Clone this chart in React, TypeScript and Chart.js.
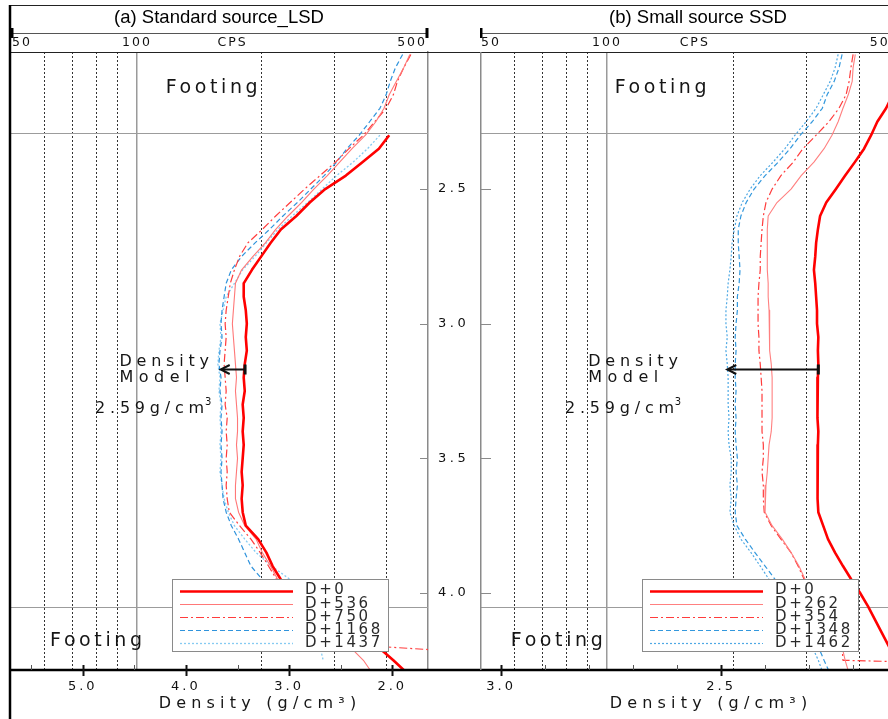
import React, { useEffect, useRef } from 'react';
import { Chart, registerables } from 'chart.js';

Chart.register(...registerables);

// ---------------- data ----------------
const DEPTH = [2.00, 2.05, 2.10, 2.15, 2.20, 2.25, 2.30, 2.35, 2.40, 2.45, 2.50, 2.55, 2.60, 2.65, 2.70, 2.75, 2.80, 2.85, 2.90, 2.95, 3.00, 3.05, 3.10, 3.15, 3.20, 3.25, 3.30, 3.35, 3.40, 3.45, 3.50, 3.55, 3.60, 3.65, 3.70, 3.75, 3.80, 3.85, 3.90, 3.95, 4.00, 4.05, 4.10, 4.15, 4.20, 4.25, 4.30];
const DEPTH_RANGE = [1.991, 4.286];
const DEPTH_TICKS = [2.5, 3.0, 3.5, 4.0];
const FOOTING_DEPTHS = [2.292, 4.052];

// (a) Standard source_LSD
const LSD_LABELS = ['D+0', 'D+536', 'D+750', 'D+1168', 'D+1437'];
const LSD_D0 = [null, null, null, null, null, null, 2.03, 2.13, 2.29, 2.45, 2.65, 2.80, 2.93, 3.08, 3.18, 3.27, 3.36, 3.44, 3.44, 3.42, 3.41, 3.42, 3.41, 3.43, 3.44, 3.43, 3.45, 3.44, 3.45, 3.44, 3.45, 3.46, 3.45, 3.46, 3.45, 3.42, 3.30, 3.22, 3.16, 3.08, 2.89, 2.65, 2.46, 2.29, 2.14, 1.99, 1.85];
const LSD_D536 = [1.83, 1.89, 1.96, 2.03, 2.08, 2.16, 2.26, 2.39, 2.51, 2.63, 2.76, 2.88, 3.01, 3.13, 3.23, 3.35, 3.46, 3.52, 3.53, 3.54, 3.55, 3.54, 3.53, 3.52, 3.51, 3.52, 3.51, 3.50, 3.50, 3.51, 3.50, 3.51, 3.52, 3.52, 3.49, 3.43, 3.32, 3.26, 3.18, 3.11, 2.99, 2.85, 2.68, 2.54, 2.41, 2.28, 2.19];
const LSD_D750 = [1.82, 1.89, 1.95, 1.99, 2.06, 2.17, 2.28, 2.42, 2.55, 2.70, 2.85, 2.99, 3.13, 3.26, 3.40, 3.48, 3.53, 3.57, 3.59, 3.61, 3.62, 3.61, 3.62, 3.63, 3.62, 3.61, 3.62, 3.60, 3.61, 3.60, 3.61, 3.60, 3.61, 3.60, 3.58, 3.48, 3.37, 3.28, 3.20, 3.12, 2.99, 2.80, 2.56, 2.31, 2.07, 0, 0];
const LSD_D1168 = [1.90, 1.97, 2.02, 2.06, 2.12, 2.22, 2.32, 2.44, 2.54, 2.66, 2.79, 2.92, 3.06, 3.19, 3.33, 3.46, 3.56, 3.61, 3.63, 3.65, 3.66, 3.65, 3.67, 3.68, 3.66, 3.67, 3.65, 3.66, 3.65, 3.66, 3.65, 3.66, 3.65, 3.64, 3.61, 3.56, 3.49, 3.43, 3.37, 3.26, 3.14, 3.01, 2.89, 2.78, 2.69, null, null];
const LSD_D1437 = [null, null, null, null, null, null, 2.12, 2.24, 2.38, 2.54, 2.68, 2.82, 2.97, 3.11, 3.22, 3.33, 3.45, 3.53, 3.61, 3.64, 3.67, 3.66, 3.68, 3.69, 3.67, 3.68, 3.66, 3.67, 3.66, 3.67, 3.66, 3.67, 3.65, 3.63, 3.59, 3.53, 3.43, 3.32, 3.17, 2.99, 2.90, 2.84, 2.78, 2.74, 2.70, 2.67, null];
const LSD_DENSITY_RANGE = [1.654, 5.705];
const LSD_DENSITY_TICKS = [2.0, 2.5, 3.0, 3.5, 4.0, 4.5, 5.0, 5.5];
const LSD_DENSITY_LABELED = [2.0, 3.0, 4.0, 5.0];
const LSD_CPS_RANGE = [49.45, 502.8];

// (b) Small source SSD
const SSD_LABELS = ['D+0', 'D+262', 'D+354', 'D+1348', 'D+1462'];
const SSD_D0 = [2.055, 2.070, 2.090, 2.110, 2.125, 2.145, 2.159, 2.175, 2.196, 2.218, 2.239, 2.261, 2.275, 2.280, 2.284, 2.286, 2.289, 2.286, 2.284, 2.282, 2.282, 2.279, 2.280, 2.279, 2.280, 2.282, 2.280, 2.281, 2.279, 2.280, 2.282, 2.281, 2.280, 2.280, 2.279, 2.268, 2.257, 2.241, 2.223, 2.204, 2.184, 2.166, 2.150, 2.134, 2.118, 2.102, 2.086];
const SSD_D262 = [2.195, 2.200, 2.202, 2.211, 2.223, 2.234, 2.248, 2.266, 2.289, 2.318, 2.341, 2.373, 2.393, 2.395, 2.395, 2.395, 2.395, 2.393, 2.393, 2.391, 2.391, 2.389, 2.389, 2.386, 2.384, 2.384, 2.384, 2.384, 2.386, 2.391, 2.393, 2.395, 2.398, 2.400, 2.400, 2.384, 2.361, 2.341, 2.323, 2.309, 2.286, 2.266, 2.248, 2.234, 2.225, 2.218, 2.209];
const SSD_D354 = [2.200, 2.205, 2.209, 2.216, 2.232, 2.255, 2.284, 2.314, 2.336, 2.364, 2.384, 2.398, 2.404, 2.407, 2.409, 2.411, 2.411, 2.414, 2.416, 2.416, 2.416, 2.414, 2.414, 2.411, 2.409, 2.407, 2.407, 2.407, 2.407, 2.404, 2.404, 2.407, 2.404, 2.404, 2.402, 2.386, 2.364, 2.341, 2.325, 2.311, 2.284, 2.261, 2.243, 2.232, 2.225, 2.223, 1.0];
const SSD_D1348 = [2.225, 2.232, 2.243, 2.259, 2.270, 2.293, 2.320, 2.343, 2.370, 2.400, 2.425, 2.443, 2.455, 2.461, 2.461, 2.459, 2.457, 2.459, 2.463, 2.463, 2.466, 2.468, 2.466, 2.468, 2.468, 2.466, 2.468, 2.466, 2.468, 2.466, 2.463, 2.466, 2.463, 2.466, 2.468, 2.464, 2.445, 2.423, 2.400, 2.377, 2.355, 2.332, 2.311, 2.293, 2.279, 2.266, 2.252];
const SSD_D1462 = [2.234, 2.241, 2.252, 2.268, 2.284, 2.307, 2.332, 2.355, 2.382, 2.411, 2.434, 2.452, 2.464, 2.470, 2.475, 2.477, 2.480, 2.484, 2.486, 2.489, 2.489, 2.486, 2.489, 2.486, 2.484, 2.484, 2.484, 2.482, 2.484, 2.482, 2.477, 2.477, 2.480, 2.477, 2.480, 2.470, 2.455, 2.432, 2.411, 2.391, 2.368, 2.345, 2.325, 2.307, 2.293, 2.279, 2.268];
const SSD_DENSITY_RANGE = [2.057, 3.048];
const SSD_DENSITY_TICKS = [2.1, 2.2, 2.3, 2.4, 2.5, 2.6, 2.7, 2.8, 2.9, 3.0];
const SSD_DENSITY_LABELED = [2.5, 3.0];
const SSD_CPS_RANGE = [49.73, 547];

const CPS_TICKS = [50, 60, 70, 80, 90, 100, 200, 300, 400, 500];
const CPS_LABELED = [50, 100, 500];
const DENSITY_MODEL = '2.59';

// annotation anchors in data units [density, depth]
const LSD_FOOT_TOP = [4.196, 2.144];
const LSD_FOOT_BOT = [5.317, 4.197];
const LSD_MODEL = [4.645, 3.157, 3.215];
const LSD_VALUE = [4.881, 3.333];
const LSD_ARROW = [3.427, 3.663, 3.168];
const SSD_FOOT_TOP = [2.742, 2.144];
const SSD_FOOT_BOT = [2.978, 4.197];
const SSD_MODEL = [2.802, 3.157, 3.215];
const SSD_VALUE = [2.855, 3.333];
const SSD_ARROW = [2.279, 2.486, 3.168];

// ---------------- styles ----------------
const FONT = '"DejaVu Sans", Verdana, sans-serif';
const TITLE_FONT = '"Liberation Sans", Arial, sans-serif';
const INK = '#151515';

type Style = { color: string; width: number; dash: number[] };
const STYLES_A: Style[] = [
  { color: '#ff0000', width: 2.6, dash: [] },
  { color: '#ff7878', width: 1.1, dash: [] },
  { color: '#ff3c3c', width: 1.2, dash: [8, 3, 2, 3] },
  { color: '#2f93dc', width: 1.2, dash: [5, 3] },
  { color: '#86cbf2', width: 1.3, dash: [2, 2] },
];
const STYLES_B: Style[] = [
  { color: '#ff0000', width: 2.6, dash: [] },
  { color: '#ff8080', width: 1.1, dash: [] },
  { color: '#ff3c3c', width: 1.2, dash: [8, 3, 2, 3] },
  { color: '#3398dd', width: 1.2, dash: [5, 3] },
  { color: '#4fa9e4', width: 1.2, dash: [2, 2] },
];

interface Panel {
  key: string;
  title: string;
  labels: string[];
  series: (number | null)[][];
  styles: Style[];
  densityRange: number[];
  densityTicks: number[];
  densityLabeled: number[];
  cpsRange: number[];
  cpsNameAt: number;
  first: boolean;
  titleDx: number;
  footTop: number[];
  footBot: number[];
  model: number[];
  value: number[];
  arrow: number[];
}

const PANEL_A: Panel = {
  key: 'a', title: '(a) Standard source_LSD', labels: LSD_LABELS,
  series: [LSD_D0, LSD_D536, LSD_D750, LSD_D1168, LSD_D1437], styles: STYLES_A,
  densityRange: LSD_DENSITY_RANGE, densityTicks: LSD_DENSITY_TICKS, densityLabeled: LSD_DENSITY_LABELED,
  cpsRange: LSD_CPS_RANGE, cpsNameAt: 170, first: true, titleDx: 41,
  footTop: LSD_FOOT_TOP, footBot: LSD_FOOT_BOT, model: LSD_MODEL, value: LSD_VALUE, arrow: LSD_ARROW,
};
const PANEL_B: Panel = {
  key: 'b', title: '(b) Small source SSD', labels: SSD_LABELS,
  series: [SSD_D0, SSD_D262, SSD_D354, SSD_D1348, SSD_D1462], styles: STYLES_B,
  densityRange: SSD_DENSITY_RANGE, densityTicks: SSD_DENSITY_TICKS, densityLabeled: SSD_DENSITY_LABELED,
  cpsRange: SSD_CPS_RANGE, cpsNameAt: 162, first: false, titleDx: 13,
  footTop: SSD_FOOT_TOP, footBot: SSD_FOOT_BOT, model: SSD_MODEL, value: SSD_VALUE, arrow: SSD_ARROW,
};

const near = (list: number[], v: number) => list.some((u) => Math.abs(u - v) < 1e-6);

function styleScale(scale: any, labelSpacing: number, titleSpacing: number, titleDx: number) {
  if (scale.$styled) return;
  scale.$styled = true;
  const origLabels = scale.drawLabels;
  scale.drawLabels = function (area: any) {
    const c = this.ctx;
    c.save();
    c.letterSpacing = labelSpacing + 'px';
    origLabels.call(this, area);
    c.restore();
  };
  const origTitle = scale.drawTitle;
  scale.drawTitle = function () {
    const c = this.ctx;
    c.save();
    c.letterSpacing = titleSpacing + 'px';
    c.translate(titleDx, 0);
    origTitle.call(this);
    c.restore();
  };
}

function hline(ctx: CanvasRenderingContext2D, x1: number, x2: number, y: number) {
  ctx.beginPath(); ctx.moveTo(x1, y); ctx.lineTo(x2, y); ctx.stroke();
}
function vline(ctx: CanvasRenderingContext2D, x: number, y1: number, y2: number) {
  ctx.beginPath(); ctx.moveTo(x, y1); ctx.lineTo(x, y2); ctx.stroke();
}

function decorPlugin(p: Panel) {
  return {
    id: 'decor_' + p.key,
    beforeDraw(chart: any) {
      const { ctx, width, height } = chart;
      ctx.save();
      ctx.fillStyle = '#ffffff';
      ctx.fillRect(0, 0, width, height);
      ctx.restore();
    },
    beforeDatasetsDraw(chart: any) {
      const { ctx, chartArea: ca, scales } = chart;
      ctx.save();
      ctx.strokeStyle = '#9c9c9c';
      ctx.lineWidth = 1;
      for (const d of FOOTING_DEPTHS) {
        const y = Math.round(scales.y.getPixelForValue(d)) + 0.5;
        hline(ctx, ca.left, ca.right, y);
      }
      ctx.restore();
    },
    afterDatasetsDraw(chart: any) {
      const { ctx, chartArea: ca, scales } = chart;
      const X = (v: number) => scales.x.getPixelForValue(v);
      const Y = (v: number) => scales.y.getPixelForValue(v);
      ctx.save();
      ctx.fillStyle = INK;
      ctx.textAlign = 'left';
      ctx.textBaseline = 'alphabetic';
      ctx.font = `19px ${FONT}`;
      ctx.letterSpacing = '3.6px';
      ctx.fillText('Footing', X(p.footTop[0]), Y(p.footTop[1]));
      ctx.fillText('Footing', X(p.footBot[0]), Y(p.footBot[1]));
      ctx.font = `16px ${FONT}`;
      ctx.letterSpacing = '4.8px';
      ctx.fillText('Density', X(p.model[0]), Y(p.model[1]));
      ctx.letterSpacing = '5.5px';
      ctx.fillText('Model', X(p.model[0]), Y(p.model[2]));
      ctx.letterSpacing = '4.8px';
      const vt = DENSITY_MODEL + 'g/cm';
      const vx = X(p.value[0]);
      const vy = Y(p.value[1]);
      ctx.fillText(vt, vx, vy);
      const w = ctx.measureText(vt).width;
      ctx.letterSpacing = '0px';
      ctx.font = `10px ${FONT}`;
      ctx.fillText('3', vx + w - 4, vy - 8);

      // arrow
      const ax1 = X(p.arrow[0]);
      const ax2 = X(p.arrow[1]);
      const ay = Math.round(Y(p.arrow[2])) + 0.5;
      const dir = ax2 < ax1 ? 1 : -1;
      ctx.strokeStyle = '#111';
      ctx.fillStyle = '#111';
      ctx.lineWidth = 2;
      hline(ctx, ax1, ax2 + dir, ay);
      ctx.beginPath();
      ctx.moveTo(ax2 + dir * 9, ay - 4.5);
      ctx.lineTo(ax2, ay);
      ctx.lineTo(ax2 + dir * 9, ay + 4.5);
      ctx.stroke();
      ctx.fillRect(ax1 - 1.5, ay - 5, 3, 10);

      // legend
      const lx = ca.left + 162;
      const ly = ca.bottom - 91;
      const lw = 216;
      const lh = 72;
      ctx.fillStyle = '#fff';
      ctx.fillRect(lx, ly, lw, lh);
      ctx.strokeStyle = '#8a8a8a';
      ctx.lineWidth = 1;
      ctx.strokeRect(lx + 0.5, ly + 0.5, lw, lh);
      chart.data.datasets.forEach((ds: any, k: number) => {
        const ry = ly + 10.5 + k * 13.2;
        ctx.save();
        ctx.strokeStyle = ds.borderColor;
        ctx.lineWidth = ds.borderWidth;
        ctx.setLineDash(ds.borderDash || []);
        hline(ctx, lx + 8, lx + 121, Math.round(ry) + 1.5);
        ctx.restore();
        ctx.fillStyle = '#2a2a2a';
        ctx.font = `15px ${FONT}`;
        ctx.letterSpacing = '2.6px';
        ctx.textBaseline = 'middle';
        ctx.fillText(ds.label, lx + 133, ry + 1);
      });
      ctx.restore();
    },
    afterDraw(chart: any) {
      const { ctx, chartArea: ca, scales, width, height } = chart;
      const xs = scales.x;
      const ys = scales.y;
      const cps = scales.cps;
      const left = p.first ? ca.left : 0;
      ctx.save();
      ctx.strokeStyle = '#222';
      ctx.lineWidth = 1.2;
      hline(ctx, left, width, 5.5);
      ctx.lineWidth = 1;
      hline(ctx, left, width, ca.top + 0.5);
      const c0 = cps.getPixelForValue(CPS_LABELED[0]);
      const cEnd = cps.getPixelForValue(CPS_LABELED[CPS_LABELED.length - 1]);
      ctx.strokeStyle = '#555';
      hline(ctx, p.first ? ca.left : c0, p.first ? ca.right : width, ca.top - 18.5);
      ctx.fillStyle = '#000';
      ctx.fillRect(c0 - 1.5, ca.top - 24, 3, 10);
      if (cEnd < width) ctx.fillRect(cEnd - 1.5, ca.top - 24, 3, 10);
      ctx.strokeStyle = '#000';
      ctx.lineWidth = 2.5;
      hline(ctx, left, width, ca.bottom);
      if (p.first) {
        ctx.lineWidth = 2.5;
        vline(ctx, ca.left, 5, height);
      } else {
        ctx.strokeStyle = '#8a8a8a';
        ctx.lineWidth = 1.5;
        vline(ctx, 0.75, ca.top, ca.bottom);
      }
      for (const t of xs.ticks) {
        const v = t.value;
        const px = Math.round(xs.getPixelForValue(v)) + 0.5;
        if (px < ca.left || px > ca.right) continue;
        const major = near(p.densityLabeled, v);
        ctx.strokeStyle = major ? '#111' : '#555';
        ctx.lineWidth = major ? 2 : 1;
        vline(ctx, px, ca.bottom - 5, ca.bottom + (major ? 6 : 0));
      }
      ctx.strokeStyle = '#8a8a8a';
      ctx.lineWidth = 1;
      for (const d of DEPTH_TICKS) {
        const py = Math.round(ys.getPixelForValue(d)) + 0.5;
        if (p.first) hline(ctx, ca.right - 8, ca.right, py);
        else hline(ctx, ca.left, ca.left + 11, py);
      }
      ctx.restore();
    },
  };
}

function makeChart(canvas: HTMLCanvasElement, p: Panel) {
  const datasets = p.series.map((s, k) => ({
    label: p.labels[k],
    data: DEPTH.map((d, i) => (s[i] == null ? null : { x: s[i] as number, y: d })).filter((pt) => pt !== null),
    borderColor: p.styles[k].color,
    backgroundColor: p.styles[k].color,
    borderWidth: p.styles[k].width,
    borderDash: p.styles[k].dash,
    borderJoinStyle: 'round',
    pointRadius: 0,
    fill: false,
    tension: 0,
    clip: 0,
  }));
  const cpsTicks = [...CPS_TICKS, p.cpsNameAt].sort((a, b) => a - b);
  const cpsColor = (v: number) => {
    if (v === 100) return '#9a9a9a';
    if (v === 50 || v === 500 || !CPS_TICKS.includes(v)) return 'rgba(0,0,0,0)';
    return '#333';
  };
  return new Chart(canvas, {
    type: 'line',
    data: { datasets } as any,
    options: {
      responsive: false,
      animation: false,
      events: [],
      layout: { padding: { left: p.first ? 10 : 0, right: 0, top: 0, bottom: 0 } },
      plugins: { legend: { display: false }, tooltip: { enabled: false }, title: { display: false } },
      scales: {
        x: {
          type: 'linear',
          position: 'bottom',
          reverse: true,
          min: p.densityRange[0],
          max: p.densityRange[1],
          afterBuildTicks: (s: any) => { s.ticks = p.densityTicks.map((v) => ({ value: v })); },
          ticks: {
            autoSkip: false, maxRotation: 0, minRotation: 0, padding: 9, color: '#111',
            font: { family: FONT, size: 13 },
            callback: (v: any) => (near(p.densityLabeled, Number(v)) ? Number(v).toFixed(1) : ''),
          },
          grid: { display: false, drawTicks: false },
          border: { display: false },
          title: {
            display: true, text: 'Density (g/cm³)', color: INK,
            font: { family: FONT, size: 16 }, padding: { top: 0, bottom: 6 },
          },
          afterFit: (s: any) => { s.height = 49; s.paddingLeft = 0; s.paddingRight = 0; },
          afterUpdate: (s: any) => styleScale(s, 3, 5.2, p.titleDx),
        },
        cps: {
          type: 'logarithmic',
          axis: 'x',
          position: 'top',
          min: p.cpsRange[0],
          max: p.cpsRange[1],
          afterBuildTicks: (s: any) => { s.ticks = cpsTicks.map((v) => ({ value: v })); },
          ticks: {
            autoSkip: false, maxRotation: 0, minRotation: 0, padding: 2, color: '#111', align: 'inner',
            font: { family: FONT, size: 12.5 },
            callback: (v: any) => {
              const n = Number(v);
              if (n === p.cpsNameAt) return 'CPS';
              return CPS_LABELED.includes(n) ? String(n) : '';
            },
          },
          grid: {
            drawOnChartArea: true, drawTicks: false,
            color: (c: any) => cpsColor(c.tick ? c.tick.value : 0),
            lineWidth: (c: any) => (c.tick && c.tick.value === 100 ? 1.5 : 1),
          },
          border: { display: false, dash: (c: any) => (c.tick && c.tick.value === 100 ? [] : [2, 2]) },
          title: {
            display: true, text: p.title, color: '#000',
            font: { family: TITLE_FONT, size: 18.5 }, padding: { top: 7, bottom: 0 },
          },
          afterFit: (s: any) => { s.height = 52; s.paddingLeft = 0; s.paddingRight = 0; },
          afterUpdate: (s: any) => styleScale(s, 2, 0, 0),
        },
        y: {
          type: 'linear',
          position: 'right',
          reverse: true,
          display: p.first,
          min: DEPTH_RANGE[0],
          max: DEPTH_RANGE[1],
          afterBuildTicks: (s: any) => { s.ticks = DEPTH_TICKS.map((v) => ({ value: v })); },
          ticks: {
            padding: 10, color: '#111', crossAlign: 'near',
            font: { family: FONT, size: 13 },
            callback: (v: any) => Number(v).toFixed(1),
          },
          grid: { drawOnChartArea: false, drawTicks: false },
          border: { display: true, color: '#8a8a8a', width: 1.5 },
          afterFit: (s: any) => {
            if (p.first) { s.width = 52; }
            s.paddingTop = 0; s.paddingBottom = 0;
          },
          afterUpdate: (s: any) => styleScale(s, 3.5, 0, 0),
        },
      },
    } as any,
    plugins: [decorPlugin(p)],
  });
}

export default function App() {
  const leftRef = useRef<HTMLCanvasElement>(null);
  const rightRef = useRef<HTMLCanvasElement>(null);
  useEffect(() => {
    const a = makeChart(leftRef.current as HTMLCanvasElement, PANEL_A);
    const b = makeChart(rightRef.current as HTMLCanvasElement, PANEL_B);
    return () => { a.destroy(); b.destroy(); };
  }, []);
  return (
    <div style={{ position: 'absolute', left: 0, top: 0, width: 888, height: 719, overflow: 'hidden', background: '#fff' }}>
      <canvas ref={leftRef} width={480} height={719} style={{ position: 'absolute', left: 0, top: 0, width: 480, height: 719 }} />
      <canvas ref={rightRef} width={436} height={719} style={{ position: 'absolute', left: 480, top: 0, width: 436, height: 719 }} />
    </div>
  );
}
